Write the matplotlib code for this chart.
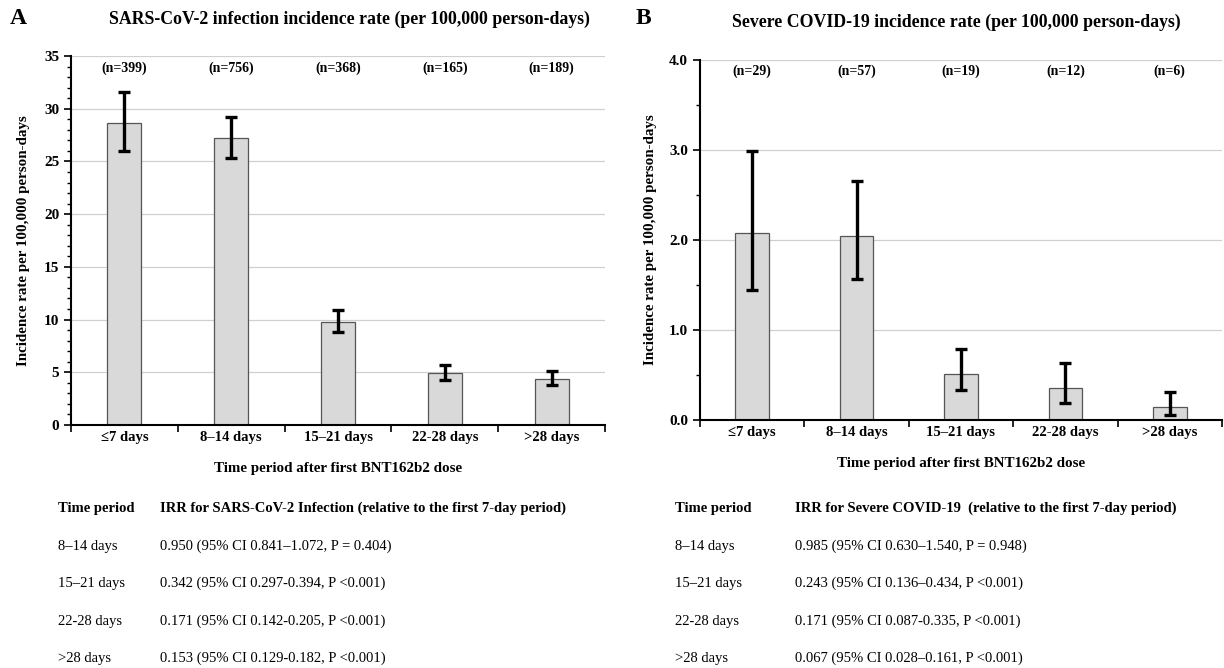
#!/usr/bin/env python3
"""Incidence rate bar charts after first BNT162b2 dose, with IRR tables."""

import numpy as np
import matplotlib
matplotlib.use("Agg")
import matplotlib.pyplot as plt
from matplotlib.ticker import MultipleLocator, FixedLocator, NullFormatter

plt.rcParams["font.family"] = ["Liberation Serif", "DejaVu Serif"]

periods = ["\u22647 days", "8\u201314 days", "15\u201321 days", "22-28 days", ">28 days"]

inf_rate = [28.6, 27.2, 9.8, 4.9, 4.4]
inf_lo = [26.0, 25.3, 8.8, 4.3, 3.8]
inf_hi = [31.6, 29.2, 10.9, 5.7, 5.1]
inf_n = [399, 756, 368, 165, 189]

sev_rate = [2.08, 2.05, 0.51, 0.36, 0.14]
sev_lo = [1.45, 1.57, 0.33, 0.19, 0.06]
sev_hi = [2.99, 2.66, 0.79, 0.63, 0.31]
sev_n = [29, 57, 19, 12, 6]

table_periods = ["8\u201314 days", "15\u201321 days", "22-28 days", ">28 days"]
inf_irr = [
    "0.950 (95% CI 0.841\u20131.072, P = 0.404)",
    "0.342 (95% CI 0.297-0.394, P <0.001)",
    "0.171 (95% CI 0.142-0.205, P <0.001)",
    "0.153 (95% CI 0.129-0.182, P <0.001)",
]
sev_irr = [
    "0.985 (95% CI 0.630\u20131.540, P = 0.948)",
    "0.243 (95% CI 0.136\u20130.434, P <0.001)",
    "0.171 (95% CI 0.087-0.335, P <0.001)",
    "0.067 (95% CI 0.028\u20130.161, P <0.001)",
]

W, H = 1224, 668
fig = plt.figure(figsize=(W / 100, H / 100), dpi=100)


def px_axes(x0, y0, x1, y1):
    return fig.add_axes([x0 / W, 1 - y1 / H, (x1 - x0) / W, (y1 - y0) / H])


def panel(ax, rate, lo, hi, ns, ymax, major, minor, fmt, ny, ylab_pad):
    x = np.arange(len(periods))
    rate = np.array(rate)
    err = [rate - np.array(lo), np.array(hi) - rate]
    ax.bar(x, rate, width=0.32, color="#d9d9d9", edgecolor="#555555",
           linewidth=0.9, zorder=2)
    ax.errorbar(x, rate, yerr=err, fmt="none", ecolor="black",
                elinewidth=2.4, capsize=4, capthick=2.4, zorder=3)
    ax.set_xlim(-0.5, len(periods) - 0.5)
    ax.set_ylim(0, ymax)
    ax.yaxis.set_major_locator(MultipleLocator(major))
    ax.yaxis.set_minor_locator(MultipleLocator(minor))
    ax.yaxis.set_major_formatter(plt.FuncFormatter(lambda v, p: fmt.format(v)))
    ax.grid(axis="y", which="major", color="#d0d0d0", linewidth=0.9, zorder=0)
    ax.set_axisbelow(True)
    for s in ["top", "right"]:
        ax.spines[s].set_visible(False)
    ax.spines["left"].set_linewidth(1.5)
    ax.spines["bottom"].set_linewidth(1.5)
    ax.xaxis.set_major_locator(FixedLocator(np.arange(-0.5, len(periods), 1.0)))
    ax.xaxis.set_major_formatter(NullFormatter())
    ax.xaxis.set_minor_locator(FixedLocator(x))
    ax.set_xticklabels(periods, minor=True, fontsize=10.5, fontweight="bold")
    ax.tick_params(axis="x", which="major", length=5, width=1.2, direction="out")
    ax.tick_params(axis="x", which="minor", length=0, pad=4)
    ax.tick_params(axis="y", which="major", length=5, width=1.2, labelsize=11)
    ax.tick_params(axis="y", which="minor", length=3, width=1.0)
    for lab in ax.get_yticklabels():
        lab.set_fontweight("bold")
    for xi, n in zip(x, ns):
        ax.text(xi, ny, f"(n={n})", ha="center", va="center",
                fontsize=10, fontweight="bold")
    ax.set_ylabel("Incidence rate per 100,000 person-days", fontsize=10.8,
                  fontweight="bold", labelpad=ylab_pad)
    ax.set_xlabel("Time period after first BNT162b2 dose", fontsize=10.8,
                  fontweight="bold", labelpad=13)


ax_a = px_axes(71, 56, 605, 425)
panel(ax_a, inf_rate, inf_lo, inf_hi, inf_n, 35, 5, 1, "{:.0f}", 33.8, 10)
ax_b = px_axes(700, 60, 1222, 420)
panel(ax_b, sev_rate, sev_lo, sev_hi, sev_n, 4.0, 1.0, 0.5, "{:.1f}", 3.88, 9)

fig.text(10 / W, 1 - 18 / H, "A", fontsize=17, fontweight="bold", va="center")
fig.text(636 / W, 1 - 18 / H, "B", fontsize=17, fontweight="bold", va="center")
fig.text(349 / W, 1 - 19 / H,
         "SARS-CoV-2 infection incidence rate (per 100,000 person-days)",
         fontsize=12.8, fontweight="bold", ha="center", va="center")
fig.text(956 / W, 1 - 22 / H,
         "Severe COVID-19 incidence rate (per 100,000 person-days)",
         fontsize=12.8, fontweight="bold", ha="center", va="center")

# table rows: baselines in pixels from the top
head_y = 512
rows_y = [550, 587, 625, 662]
for x0, x1, head, vals in [(58, 160, "IRR for SARS-CoV-2 Infection (relative to the first 7-day period)", inf_irr),
                           (675, 795, "IRR for Severe COVID-19  (relative to the first 7-day period)", sev_irr)]:
    fig.text(x0 / W, 1 - head_y / H, "Time period", fontsize=10.5,
             fontweight="bold", va="baseline")
    fig.text(x1 / W, 1 - head_y / H, head, fontsize=10.5, fontweight="bold",
             va="baseline")
    for y, p, v in zip(rows_y, table_periods, vals):
        fig.text(x0 / W, 1 - y / H, p, fontsize=10.5, va="baseline")
        fig.text(x1 / W, 1 - y / H, v, fontsize=10.5, va="baseline")

fig.savefig("out.png", dpi=100)
